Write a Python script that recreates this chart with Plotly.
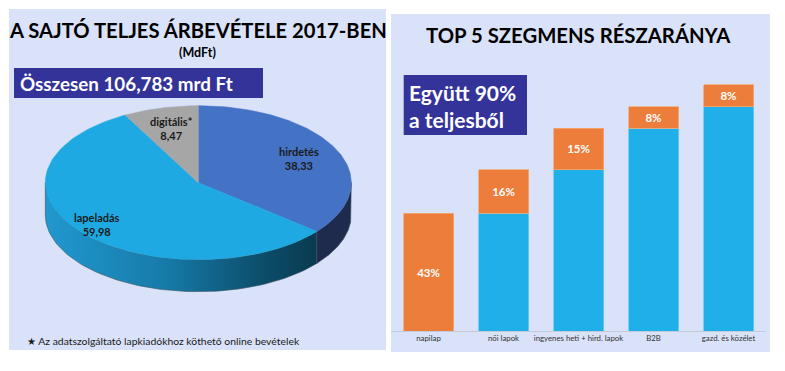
import numpy as np
import plotly.graph_objects as go

# ---------------- data ----------------
pie_labels = ["hirdetés", "lapeladás", "digitális*"]
pie_values = [38.33, 59.98, 8.47]
pie_value_text = ["38,33", "59,98", "8,47"]
pie_colors = ["#4472C4", "#1EA9E3", "#A6A6A6"]

bar_categories = ["napilap", "női lapok", "ingyenes heti + hird. lapok", "B2B", "gazd. és közélet"]
bar_shares = [43, 16, 15, 8, 8]

left_title = "A SAJTÓ TELJES ÁRBEVÉTELE 2017-BEN"
left_sub = "(MdFt)"
total_text = "Összesen 106,783 mrd Ft"
right_title = "TOP 5 SZEGMENS RÉSZARÁNYA"
box_text = "Együtt 90%<br>a teljesből"
footnote = "★ Az adatszolgáltató lapkiadókhoz köthető online bevételek"

# ---------------- layout constants ----------------
W, H = 785, 371
PANEL = "#D9E2F9"
NAVY = "#333399"
FONT = "Lato"
cx, cy, rx, ry, depth = 198.3, 182.7, 153, 77, 32

fig = go.Figure()

def ell(t):
    t = np.radians(t)
    return cx + rx * np.cos(t), cy - ry * np.sin(t)

# slice angles (clockwise from 12 o'clock)
vals = np.array(pie_values)
spans = vals / vals.sum() * 360
starts = 90 - np.concatenate([[0], np.cumsum(spans)[:-1]])
ends = starts - spans

# side walls (front half only)
def side(t0, t1, **kw):
    ts = np.linspace(t0, t1, 80)
    x, y = ell(ts)
    xs = np.concatenate([x, x[::-1], [x[0]]])
    ys = np.concatenate([y, (y + depth)[::-1], [y[0]]])
    fig.add_trace(go.Scatter(x=xs, y=ys, fill="toself", mode="lines",
                             line=dict(width=0.6, color="#3a5060"), hoverinfo="skip",
                             showlegend=False, xaxis="x", yaxis="y", **kw))

hird_end = ends[0]
side(-180, hird_end, fillgradient=dict(type="horizontal",
                                       colorscale=[[0, "#2198CF"], [0.45, "#167AA8"],
                                                   [0.8, "#0C4D6A"], [1, "#093A50"]]),
     fillcolor="#167AA8")
side(hird_end, 0, fillcolor="#1F2B4D")

# top faces
for i in range(len(vals)):
    ts = np.linspace(starts[i], ends[i], 120)
    x, y = ell(ts)
    xs = np.concatenate([[cx], x, [cx]])
    ys = np.concatenate([[cy], y, [cy]])
    fig.add_trace(go.Scatter(x=xs, y=ys, fill="toself", mode="lines",
                             fillcolor=pie_colors[i], line=dict(width=0.5, color=pie_colors[i]),
                             hoverinfo="skip", showlegend=False, xaxis="x", yaxis="y"))

# pie labels
label_r = [0.73, 0.86, 0.72]
annotations = []
for i in range(len(vals)):
    mid = np.radians((starts[i] + ends[i]) / 2)
    lx = cx + label_r[i] * rx * np.cos(mid)
    ly = cy - label_r[i] * ry * np.sin(mid)
    annotations.append(dict(x=lx, y=ly, xref="x", yref="y", showarrow=False,
                            text=f"<b>{pie_labels[i]}<br>{pie_value_text[i]}</b>",
                            font=dict(family=FONT, size=11, color="#1a1a1a")))

# ---------------- bars ----------------
shares = np.array(bar_shares)
bases = np.cumsum(shares) - shares
fig.add_trace(go.Bar(x=bar_categories, y=bases, marker=dict(color="#1FB0EA", line=dict(width=0.8, color="#6CCBF2")),
                     xaxis="x2", yaxis="y2", showlegend=False, hoverinfo="skip"))
fig.add_trace(go.Bar(x=bar_categories, y=shares, marker=dict(color="#ED7D3B", line=dict(width=0.8, color="#F3A774")),
                     text=[f"<b>{s}%</b>" for s in bar_shares], textposition="inside",
                     insidetextanchor="middle", constraintext="none",
                     textfont=dict(family=FONT, size=11.5, color="white"),
                     xaxis="x2", yaxis="y2", showlegend=False, hoverinfo="skip"))

# ---------------- shapes ----------------
shapes = [
    dict(type="rect", xref="paper", yref="paper", x0=9 / W, x1=386 / W, y0=1 - 350 / H, y1=1 - 9 / H,
         fillcolor=PANEL, line=dict(width=0), layer="below"),
    dict(type="rect", xref="paper", yref="paper", x0=391 / W, x1=770 / W, y0=1 - 352 / H, y1=1 - 14 / H,
         fillcolor=PANEL, line=dict(width=0), layer="below"),
    dict(type="rect", xref="paper", yref="paper", x0=14 / W, x1=263 / W, y0=1 - 98 / H, y1=1 - 68 / H,
         fillcolor=NAVY, line=dict(width=0), layer="below"),
    dict(type="rect", xref="paper", yref="paper", x0=403.7 / W, x1=527 / W, y0=1 - 135 / H, y1=1 - 75 / H,
         fillcolor=NAVY, line=dict(width=0), layer="below"),
]

def pa(text, x, y, size, color="black", xanchor="center", bold=True, **kw):
    annotations.append(dict(x=x / W, y=1 - y / H, xref="paper", yref="paper", showarrow=False,
                            xanchor=xanchor, yanchor="middle",
                            text=f"<b>{text}</b>" if bold else text,
                            font=dict(family=FONT, size=size, color=color), **kw))

pa(left_title, 197.5, 30, 20.2)
pa(left_sub, 197.5, 53, 12.5)
pa(total_text, 18, 83, 18.8, color="white", xanchor="left")
pa(right_title, 578.7, 35, 20.3)
pa(box_text, 407, 106, 21, color="white", xanchor="left", align="left")
pa(footnote, 25, 341, 10.4, color="#1a1a1a", xanchor="left", bold=False)

fig.update_layout(
    width=W, height=H, margin=dict(l=0, r=0, t=0, b=0),
    paper_bgcolor="white", plot_bgcolor="rgba(0,0,0,0)",
    barmode="stack", bargap=1 / 3,
    xaxis=dict(domain=[0, 1], range=[0, W], visible=False, fixedrange=True),
    yaxis=dict(domain=[0, 1], range=[H, 0], visible=False, fixedrange=True),
    xaxis2=dict(domain=[391 / W, 766 / W], anchor="y2", showline=True, linecolor="#C3CAD9",
                linewidth=1, ticks="", showgrid=False, fixedrange=True,
                tickfont=dict(family=FONT, size=7.8, color="#333333")),
    yaxis2=dict(domain=[1 - 331 / H, 1 - 57.3 / H], range=[0, 100], visible=False, anchor="x2",
                fixedrange=True),
    shapes=shapes, annotations=annotations, showlegend=False,
)

fig.write_html("out.html", config={"displayModeBar": False},
               post_script="document.body.style.margin='0';")
